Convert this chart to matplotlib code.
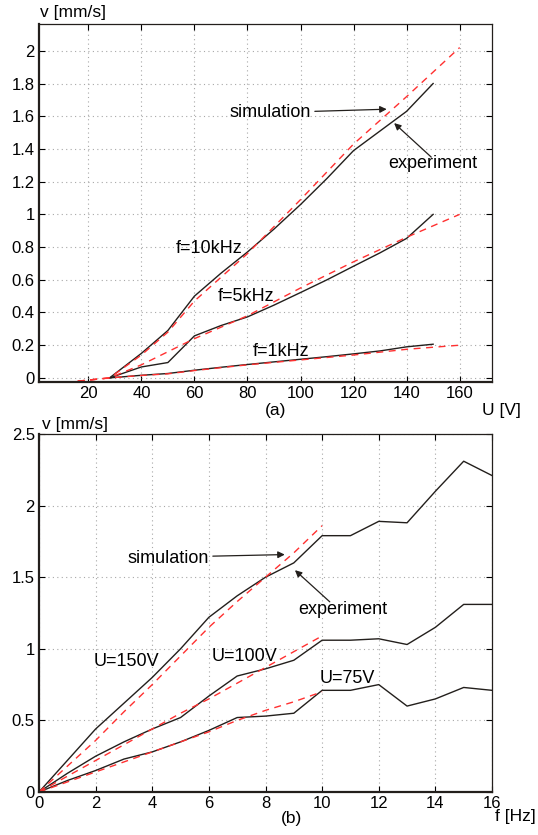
import numpy as np
import matplotlib
matplotlib.use('Agg')
import matplotlib.pyplot as plt
from matplotlib.ticker import FuncFormatter

plt.rcParams['font.family'] = ['Liberation Sans', 'DejaVu Sans']
plt.rcParams['font.size'] = 12

# (a) Geschwindigkeit ueber Spannung
U_exp = [28, 40, 50, 60, 70, 80, 90, 100, 110, 120, 130, 140, 150]
v10k_exp = [0, 0.15, 0.29, 0.50, 0.64, 0.77, 0.91, 1.06, 1.22, 1.39, 1.51, 1.63, 1.80]
v5k_exp = [0, 0.067, 0.094, 0.257, 0.32, 0.373, 0.445, 0.522, 0.60, 0.683, 0.765, 0.853, 1.0]
v1k_exp = [0, 0.016, 0.027, 0.047, 0.065, 0.082, 0.098, 0.114, 0.13, 0.147, 0.165, 0.19, 0.206]

U_sim = [16, 28, 40, 50, 60, 80, 100, 120, 140, 160]
v10k_sim = [-0.02, 0, 0.14, 0.28, 0.47, 0.76, 1.09, 1.43, 1.72, 2.02]
v5k_sim = [-0.02, 0, 0.08, 0.16, 0.24, 0.38, 0.55, 0.71, 0.86, 1.00]
v1k_sim = [-0.02, 0, 0.015, 0.025, 0.045, 0.08, 0.11, 0.14, 0.175, 0.20]

# (b) Geschwindigkeit ueber Frequenz
f_exp = list(range(0, 17))
v150_exp = [0, 0.22, 0.44, 0.62, 0.80, 1.00, 1.22, 1.37, 1.50, 1.60, 1.79, 1.79, 1.89, 1.88, 2.10, 2.31, 2.21]
v100_exp = [0, 0.13, 0.25, 0.35, 0.44, 0.52, 0.67, 0.81, 0.86, 0.92, 1.06, 1.06, 1.07, 1.03, 1.15, 1.31, 1.31]
v75_exp = [0, 0.08, 0.15, 0.23, 0.28, 0.35, 0.43, 0.52, 0.53, 0.55, 0.71, 0.71, 0.75, 0.60, 0.65, 0.73, 0.71]

f_sim = list(range(0, 11))
v150_sim = [0, 0.18, 0.36, 0.56, 0.75, 0.95, 1.15, 1.33, 1.50, 1.67, 1.86]
v100_sim = [0, 0.11, 0.22, 0.33, 0.44, 0.55, 0.65, 0.76, 0.87, 0.98, 1.09]
v75_sim = [0, 0.07, 0.14, 0.21, 0.28, 0.35, 0.42, 0.50, 0.57, 0.63, 0.70]

exp_style = dict(color='#231f1c', lw=1.0, linestyle='-')
sim_style = dict(color='#ff3030', lw=1.0, linestyle=(0, (5, 4)))
arrow_props = dict(arrowstyle='-|>', color='#231f1c', lw=0.9, mutation_scale=10, shrinkA=0, shrinkB=0)
note_size = 13

fig = plt.figure(figsize=(5.38, 8.35), dpi=100)
W, H = 538, 835


def make_axes(left, top, right, bottom):
    ax = fig.add_axes([left / W, 1 - bottom / H, (right - left) / W, (bottom - top) / H])
    ax.grid(True, linestyle=(0, (1, 3)), color='#a8a8a8', lw=0.8)
    ax.tick_params(direction='in', top=True, right=True, length=4, width=0.8, pad=3, labelsize=12)
    for side in ['top', 'right']:
        ax.spines[side].set_linewidth(0.9)
        ax.spines[side].set_color('#231f1c')
    for side in ['left', 'bottom']:
        ax.spines[side].set_linewidth(1.6)
        ax.spines[side].set_color('#231f1c')
    return ax


fmt = FuncFormatter(lambda v, p: '%g' % round(v, 2))

# Diagramm (a)
ax1 = make_axes(39, 24, 492, 382)
for v in [v10k_exp, v5k_exp, v1k_exp]:
    ax1.plot(U_exp, v, **exp_style)
for v in [v10k_sim, v5k_sim, v1k_sim]:
    ax1.plot(U_sim, v, **sim_style)
ax1.set_xlim(1.4, 172.2)
ax1.set_ylim(-0.025, 2.164)
ax1.set_xticks(np.arange(20, 161, 20))
ax1.set_yticks(np.arange(0, 2.01, 0.2))
ax1.yaxis.set_major_formatter(fmt)

ax1.text(88.4, 1.62, 'simulation', ha='center', va='center', fontsize=note_size)
ax1.annotate('', xy=(132.5, 1.643), xytext=(105.4, 1.63), arrowprops=arrow_props)
ax1.text(150, 1.313, 'experiment', ha='center', va='center', fontsize=note_size)
ax1.annotate('', xy=(135.3, 1.558), xytext=(149.3, 1.35), arrowprops=arrow_props)
ax1.text(65.6, 0.793, 'f=10kHz', ha='center', va='center', fontsize=note_size)
ax1.text(79.4, 0.499, 'f=5kHz', ha='center', va='center', fontsize=note_size)
ax1.text(92.6, 0.159, 'f=1kHz', ha='center', va='center', fontsize=note_size)

# Diagramm (b)
ax2 = make_axes(39, 434, 492, 792)
for v in [v150_exp, v100_exp, v75_exp]:
    ax2.plot(f_exp, v, **exp_style)
for v in [v150_sim, v100_sim, v75_sim]:
    ax2.plot(f_sim, v, **sim_style)
ax2.set_xlim(0, 16)
ax2.set_ylim(0, 2.5)
ax2.set_xticks(np.arange(0, 17, 2))
ax2.set_yticks(np.arange(0, 2.51, 0.5))
ax2.yaxis.set_major_formatter(fmt)

ax2.text(4.57, 1.63, 'simulation', ha='center', va='center', fontsize=note_size)
ax2.annotate('', xy=(8.68, 1.658), xytext=(6.14, 1.647), arrowprops=arrow_props)
ax2.text(10.73, 1.277, 'experiment', ha='center', va='center', fontsize=note_size)
ax2.annotate('', xy=(9.04, 1.549), xytext=(10.27, 1.328), arrowprops=arrow_props)
ax2.text(3.08, 0.914, 'U=150V', ha='center', va='center', fontsize=note_size)
ax2.text(7.27, 0.944, 'U=100V', ha='center', va='center', fontsize=note_size)
ax2.text(10.89, 0.793, 'U=75V', ha='center', va='center', fontsize=note_size)

# Achsenbeschriftungen ausserhalb
fig.text(40 / W, 1 - 13 / H, 'v [mm/s]', ha='left', va='center', fontsize=12.5)
fig.text(276 / W, 1 - 410 / H, '(a)', ha='center', va='center', fontsize=12.5)
fig.text(482 / W, 1 - 410 / H, 'U [V]', ha='left', va='center', fontsize=12.5)
fig.text(42 / W, 1 - 424 / H, 'v [mm/s]', ha='left', va='center', fontsize=12.5)
fig.text(291 / W, 1 - 818 / H, '(b)', ha='center', va='center', fontsize=12.5)
fig.text(495 / W, 1 - 817 / H, 'f [Hz]', ha='left', va='center', fontsize=12.5)

fig.savefig('out.png', dpi=100)
